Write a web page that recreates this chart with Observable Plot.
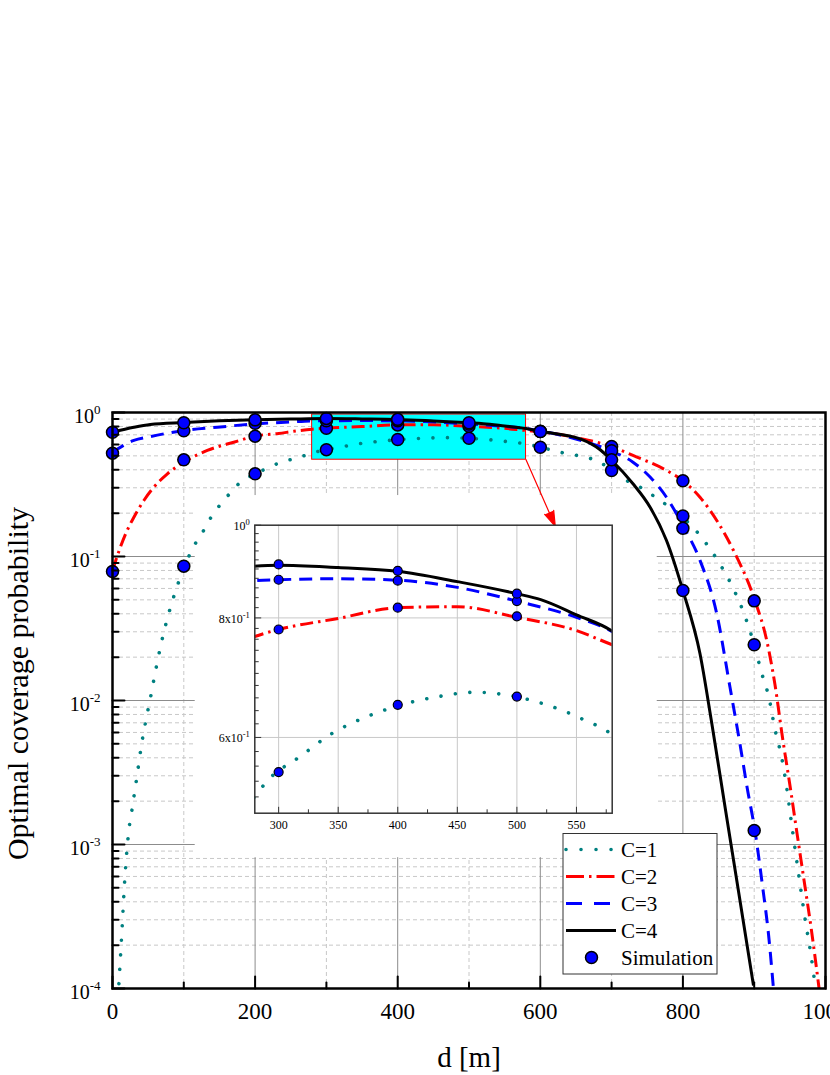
<!DOCTYPE html>
<html>
<head>
<meta charset="utf-8">
<script src="https://cdn.jsdelivr.net/npm/d3@7"></script>
<script src="https://cdn.jsdelivr.net/npm/@observablehq/plot@0.6"></script>
<style>
  html, body { margin: 0; padding: 0; background: #fff; overflow: hidden; }
  #chart { position: relative; width: 830px; height: 1075px; overflow: hidden; }
  #chart svg { position: absolute; }
</style>
</head>
<body>
<div id="chart"></div>
<script>
// ---------------- data ----------------
// C = 1 (analysis)
const dC1 = [9, 12.6, 17.3, 22.4, 28.5, 34.6, 40.6, 48, 53, 60, 68.7, 79, 91.6, 107, 116, 128, 137, 149, 162, 177,
  200, 217, 233, 254, 277.5, 292, 318, 345, 373, 403, 434, 465, 496, 525, 554, 581, 600, 628, 684, 700,
  721, 740, 768, 794, 824, 847.5, 868.5, 885, 900, 910, 921, 929, 938.6, 945.6, 954, 962.8, 972, 979, 986];
const vC1 = [1.08e-4, 2.2e-4, 5.8e-4, 1.19e-3, 1.9e-3, 3.05e-3, 4.9e-3, 7.8e-3, 0.0103, 0.0157, 0.0254, 0.0404, 0.064, 0.1, 0.1225, 0.152, 0.183, 0.222, 0.265, 0.32,
  0.375, 0.41, 0.445, 0.477, 0.516, 0.543, 0.573, 0.606, 0.630, 0.649, 0.662, 0.669, 0.663, 0.649, 0.628, 0.603, 0.574, 0.53, 0.45, 0.396,
  0.337, 0.303, 0.245, 0.198, 0.14, 0.096, 0.063, 0.041, 0.0244, 0.0158, 0.0103, 0.00636, 0.004, 0.00248, 0.00122, 6.0e-4, 2.9e-4, 1.8e-4, 1.0e-4];
// C = 2
const dC2 = [0, 11, 20.6, 30, 44, 58, 77, 100, 133, 170, 203, 233, 254, 280, 300, 350, 400, 450, 500, 550,
  580, 600, 656, 684, 700, 730, 777, 800, 824, 847.5, 871, 901, 917.6, 929, 940, 950, 960, 970, 980, 991];
const vC2 = [0.08, 0.116, 0.152, 0.1875, 0.245, 0.303, 0.375, 0.452, 0.545, 0.622, 0.69, 0.715, 0.74, 0.765, 0.778, 0.799, 0.82, 0.822, 0.801, 0.776,
  0.75, 0.735, 0.66, 0.612, 0.578, 0.503, 0.396, 0.336, 0.258, 0.178, 0.11, 0.0495, 0.0261, 0.013, 0.0054, 0.0026, 0.0012, 5.6e-4, 2.6e-4, 1.0e-4];
// C = 3
const dC3 = [0, 30, 53, 77, 100, 147, 200, 250, 280, 300, 350, 400, 450, 500, 550, 580, 600, 650, 700, 730,
  754, 777, 800, 824, 847.5, 866, 880, 890, 901, 912, 920, 927];
const vC3 = [0.53, 0.64, 0.68, 0.718, 0.75, 0.79, 0.834, 0.86, 0.875, 0.877, 0.879, 0.876, 0.861, 0.833, 0.801, 0.774, 0.745, 0.655, 0.539, 0.452,
  0.356, 0.258, 0.164, 0.094, 0.04, 0.0124, 0.005, 0.0025, 0.00125, 5.0e-4, 2.4e-4, 1.0e-4];
// C = 4
const dC4 = [0, 30, 53, 100, 150, 200, 250, 300, 350, 400, 450, 500, 520, 550, 580, 600, 656, 684, 700, 730,
  754, 777, 800, 824, 840, 860, 880, 899];
const vC4 = [0.73, 0.79, 0.826, 0.852, 0.875, 0.89, 0.90, 0.908, 0.903, 0.895, 0.873, 0.848, 0.836, 0.806, 0.775, 0.74, 0.656, 0.551, 0.466, 0.32,
  0.22, 0.129, 0.058, 0.0211, 0.0072, 0.00171, 4.1e-4, 1.05e-4];

// Simulation points
const simD  = [0, 100, 200, 300, 400, 500, 600, 700, 800, 900];
const simC1 = [null, 0.0857, 0.375, 0.552, 0.649, 0.662, 0.574, 0.396, 0.191, 0.0244];
const simC2 = [0.0787, 0.469, 0.685, 0.778, 0.82, 0.803, 0.738, 0.581, 0.336, 0.0492];
const simC3 = [0.522, 0.746, 0.843, 0.877, 0.875, 0.833, 0.74, 0.542, 0.157, 0.00125];
const simC4 = [0.73, 0.848, 0.889, 0.91, 0.896, 0.848, 0.738, 0.469, 0.058, null];

// labels & ticks
const seriesNames = ["C=1", "C=2", "C=3", "C=4"];
const simName = "Simulation";
const xLabel = "d [m]";
const yLabel = "Optimal coverage probability";
const xMajor = [0, 200, 400, 600, 800, 1000];
const xMinor = [100, 300, 500, 700, 900];
const yDecades = [1e-4, 1e-3, 1e-2, 1e-1, 1];
const yMinor = [];
for (const e of [-4, -3, -2, -1]) for (const k of [2, 3, 4, 5, 6, 7, 8, 9]) yMinor.push(k * Math.pow(10, e));
const insetXMajor = [300, 350, 400, 450, 500, 550];
const insetXMinor = [325, 375, 425, 475, 525, 575];
const insetYMajor = [0.6, 0.8, 1.0];
const insetYMinor = [0.52, 0.54, 0.56, 0.58, 0.62, 0.64, 0.66, 0.68, 0.70, 0.72, 0.74, 0.76, 0.78, 0.82, 0.84, 0.86, 0.88, 0.90, 0.92, 0.94, 0.96, 0.98];
const insetYLabels = [{v: 1, t: "10|0"}, {v: 0.8, t: "8x10|-1"}, {v: 0.6, t: "6x10|-1"}];

// zoom window (data space) and layout boxes in data space
const zoomBox = [{x1: 280, x2: 580, y1: 0.47, y2: 0.968}];
const zoomArrow = [{x1: 580, y1: 0.47, x2: 621, y2: 0.162}];
const insetBackdrop = [{x1: 116, x2: 764, y1: 8.1e-4, y2: 0.265}];

// ---------------- styles ----------------
const FONT = "'Liberation Serif', 'Times New Roman', serif";
const styles = [
  {stroke: "#008080", width: 3.6, dash: "0.01 14.5", cap: "round"},
  {stroke: "#FF0000", width: 3, dash: "13 5 2.5 5", cap: "butt"},
  {stroke: "#0000FF", width: 3, dash: "13 8", cap: "butt"},
  {stroke: "#000000", width: 3, dash: null, cap: "butt"}
];
const curves = [[dC1, vC1], [dC2, vC2], [dC3, vC3], [dC4, vC4]].map(([ds, vs], i) =>
  ds.map((d, j) => ({d, v: vs[j], s: seriesNames[i]})));
const sims = [simC1, simC2, simC3, simC4].flatMap((vs, i) =>
  simD.map((d, j) => ({d, v: vs[j], s: seriesNames[i]})).filter(r => r.v != null));

const tickShape = {draw(ctx, l) { ctx.moveTo(0, 0); ctx.lineTo(0, -l); }};

function lineMarks(extra = {}) {
  return curves.map((rows, i) => Plot.line(rows, {
    x: "d", y: "v", stroke: styles[i].stroke, strokeWidth: styles[i].width,
    strokeDasharray: styles[i].dash, strokeLinecap: styles[i].cap,
    curve: "monotone-x", clip: true, ...extra
  }));
}

// ---------------- main chart ----------------
const main = Plot.plot({
  width: 830, height: 1075,
  marginTop: 412, marginRight: 5, marginBottom: 87, marginLeft: 112,
  style: {background: "white", fontFamily: FONT, overflow: "hidden"},
  x: {domain: [0, 1000], axis: null},
  y: {type: "log", domain: [1e-4, 1], axis: null},
  marks: [
    Plot.ruleY(yMinor, {y: d => d, stroke: "#c8c8c8", strokeDasharray: "4 3"}),
    Plot.ruleX(xMinor, {x: d => d, stroke: "#c8c8c8", strokeDasharray: "4 3"}),
    Plot.ruleY(yDecades, {y: d => d, stroke: "#8c8c8c"}),
    Plot.ruleX(xMajor, {x: d => d, stroke: "#8c8c8c"}),
    Plot.rect(insetBackdrop, {x1: "x1", x2: "x2", y1: "y1", y2: "y2", fill: "white"}),
    Plot.rect(zoomBox, {x1: "x1", x2: "x2", y1: "y1", y2: "y2", fill: "#00FFFF", stroke: "#FF0000", strokeWidth: 1}),
    ...lineMarks(),
    Plot.dot(sims, {x: "d", y: "v", r: 6, fill: "#0000FF", stroke: "#000", strokeWidth: 1.5}),
    Plot.arrow(zoomArrow, {x1: "x1", y1: "y1", x2: "x2", y2: "y2", stroke: "#FF0000", fill: "#FF0000",
      strokeWidth: 1.2, headLength: 20, headAngle: 36}),
    // ticks (inward)
    Plot.vector(xMajor, {x: d => d, frameAnchor: "bottom", length: 12, rotate: 0, anchor: "start", shape: tickShape, stroke: "#000", strokeWidth: 2}),
    Plot.vector(xMinor, {x: d => d, frameAnchor: "bottom", length: 6, rotate: 0, anchor: "start", shape: tickShape, stroke: "#000", strokeWidth: 2}),
    Plot.vector(yDecades, {y: d => d, frameAnchor: "left", length: 12, rotate: 90, anchor: "start", shape: tickShape, stroke: "#000", strokeWidth: 2}),
    Plot.vector(yMinor, {y: d => d, frameAnchor: "left", length: 6, rotate: 90, anchor: "start", shape: tickShape, stroke: "#000", strokeWidth: 2}),
    // tick labels
    Plot.text(xMajor, {x: d => d, frameAnchor: "bottom", lineAnchor: "middle", textAnchor: "middle", dy: 23.5,
      text: d => String(d), fontSize: 23, fontFamily: FONT}),
    Plot.text(yDecades, {y: d => d, frameAnchor: "left", lineAnchor: "middle", textAnchor: "end", dx: -12, dy: 4,
      text: d => "10|" + Math.round(Math.log10(d)), fontSize: 20, fontFamily: FONT}),
    // axis titles
    Plot.text([xLabel], {frameAnchor: "bottom", lineAnchor: "middle", textAnchor: "middle", dy: 69,
      text: d => d, fontSize: 29, fontFamily: FONT}),
    Plot.text([yLabel], {frameAnchor: "left", lineAnchor: "middle", textAnchor: "middle", dx: -94, dy: -17, rotate: -90,
      text: d => d, fontSize: 30, fontFamily: FONT}),
    Plot.frame({stroke: "#000", strokeWidth: 2.5})
  ]
});

// ---------------- inset ----------------
const inset = Plot.plot({
  width: 462, height: 362,
  marginLeft: 59.3, marginTop: 29.7, marginRight: 45.3, marginBottom: 44.3,
  style: {background: "transparent", fontFamily: FONT, overflow: "visible"},
  x: {domain: [280, 580], axis: null},
  y: {type: "log", domain: [0.5, 1], axis: null},
  marks: [
    Plot.frame({fill: "white"}),
    Plot.ruleX(insetXMajor, {x: d => d, stroke: "#c8c8c8", strokeWidth: 1}),
    Plot.ruleY([0.6, 0.8], {y: d => d, stroke: "#c8c8c8", strokeWidth: 1}),
    ...lineMarks(),
    Plot.dot(sims.filter(r => r.d >= 280 && r.d <= 580), {x: "d", y: "v", r: 4.5, fill: "#0000FF", stroke: "#000", strokeWidth: 1.2}),
    Plot.vector(insetXMajor, {x: d => d, frameAnchor: "bottom", length: 6, rotate: 0, anchor: "start", shape: tickShape, stroke: "#333", strokeWidth: 1}),
    Plot.vector(insetXMinor, {x: d => d, frameAnchor: "bottom", length: 3.5, rotate: 0, anchor: "start", shape: tickShape, stroke: "#333", strokeWidth: 1}),
    Plot.vector(insetYMajor, {y: d => d, frameAnchor: "left", length: 6, rotate: 90, anchor: "start", shape: tickShape, stroke: "#333", strokeWidth: 1}),
    Plot.vector(insetYMinor, {y: d => d, frameAnchor: "left", length: 3.5, rotate: 90, anchor: "start", shape: tickShape, stroke: "#333", strokeWidth: 1}),
    Plot.text(insetXMajor, {x: d => d, frameAnchor: "bottom", lineAnchor: "middle", textAnchor: "middle", dy: 11.5,
      text: d => String(d), fontSize: 12, fontFamily: FONT}),
    Plot.text(insetYLabels, {y: "v", frameAnchor: "left", lineAnchor: "middle", textAnchor: "end", dx: -5, dy: 1,
      text: "t", fontSize: 12, fontFamily: FONT}),
    Plot.frame({stroke: "#333", strokeWidth: 1.5})
  ]
});

// superscripts for "base|exp" labels
function addSup(svg, size, dy) {
  svg.querySelectorAll("text").forEach(t => {
    if (t.children.length) return;
    const parts = (t.textContent || "").split("|");
    if (parts.length !== 2) return;
    t.textContent = parts[0];
    const ts = document.createElementNS("http://www.w3.org/2000/svg", "tspan");
    ts.setAttribute("dy", dy);
    ts.setAttribute("font-size", size);
    ts.textContent = parts[1];
    t.appendChild(ts);
  });
}
addSup(main, 13, -9);
addSup(inset, 8.5, -5);

// ---------------- legend (drawn into main svg) ----------------
const lg = d3.select(main).append("g").attr("font-family", FONT).attr("text-anchor", "start");
lg.append("rect").attr("x", 563).attr("y", 833.5).attr("width", 154).attr("height", 140.5)
  .attr("fill", "white").attr("stroke", "#333").attr("stroke-width", 1);
const rowY = [849.5, 876.5, 903.5, 930.5, 957.5];
const legendDash = ["0.01 15", "18 5 2.5 5", "16 12", null];
seriesNames.forEach((name, i) => {
  lg.append("line").attr("x1", 566).attr("x2", 616).attr("y1", rowY[i]).attr("y2", rowY[i])
    .attr("stroke", styles[i].stroke).attr("stroke-width", styles[i].width)
    .attr("stroke-dasharray", legendDash[i])
    .attr("stroke-linecap", styles[i].cap);
  lg.append("text").attr("x", 621).attr("y", rowY[i]).attr("dy", "0.35em")
    .attr("text-anchor", "start").attr("font-size", 21).text(name);
});
lg.append("circle").attr("cx", 591.5).attr("cy", rowY[4]).attr("r", 6)
  .attr("fill", "#0000FF").attr("stroke", "#000").attr("stroke-width", 1.5);
lg.append("text").attr("x", 621).attr("y", rowY[4]).attr("dy", "0.35em")
  .attr("text-anchor", "start").attr("font-size", 21).text(simName);

const host = document.getElementById("chart");
main.style.left = "0px"; main.style.top = "0px";
inset.style.left = "195px"; inset.style.top = "495px";
host.appendChild(main);
host.appendChild(inset);
</script>
</body>
</html>
